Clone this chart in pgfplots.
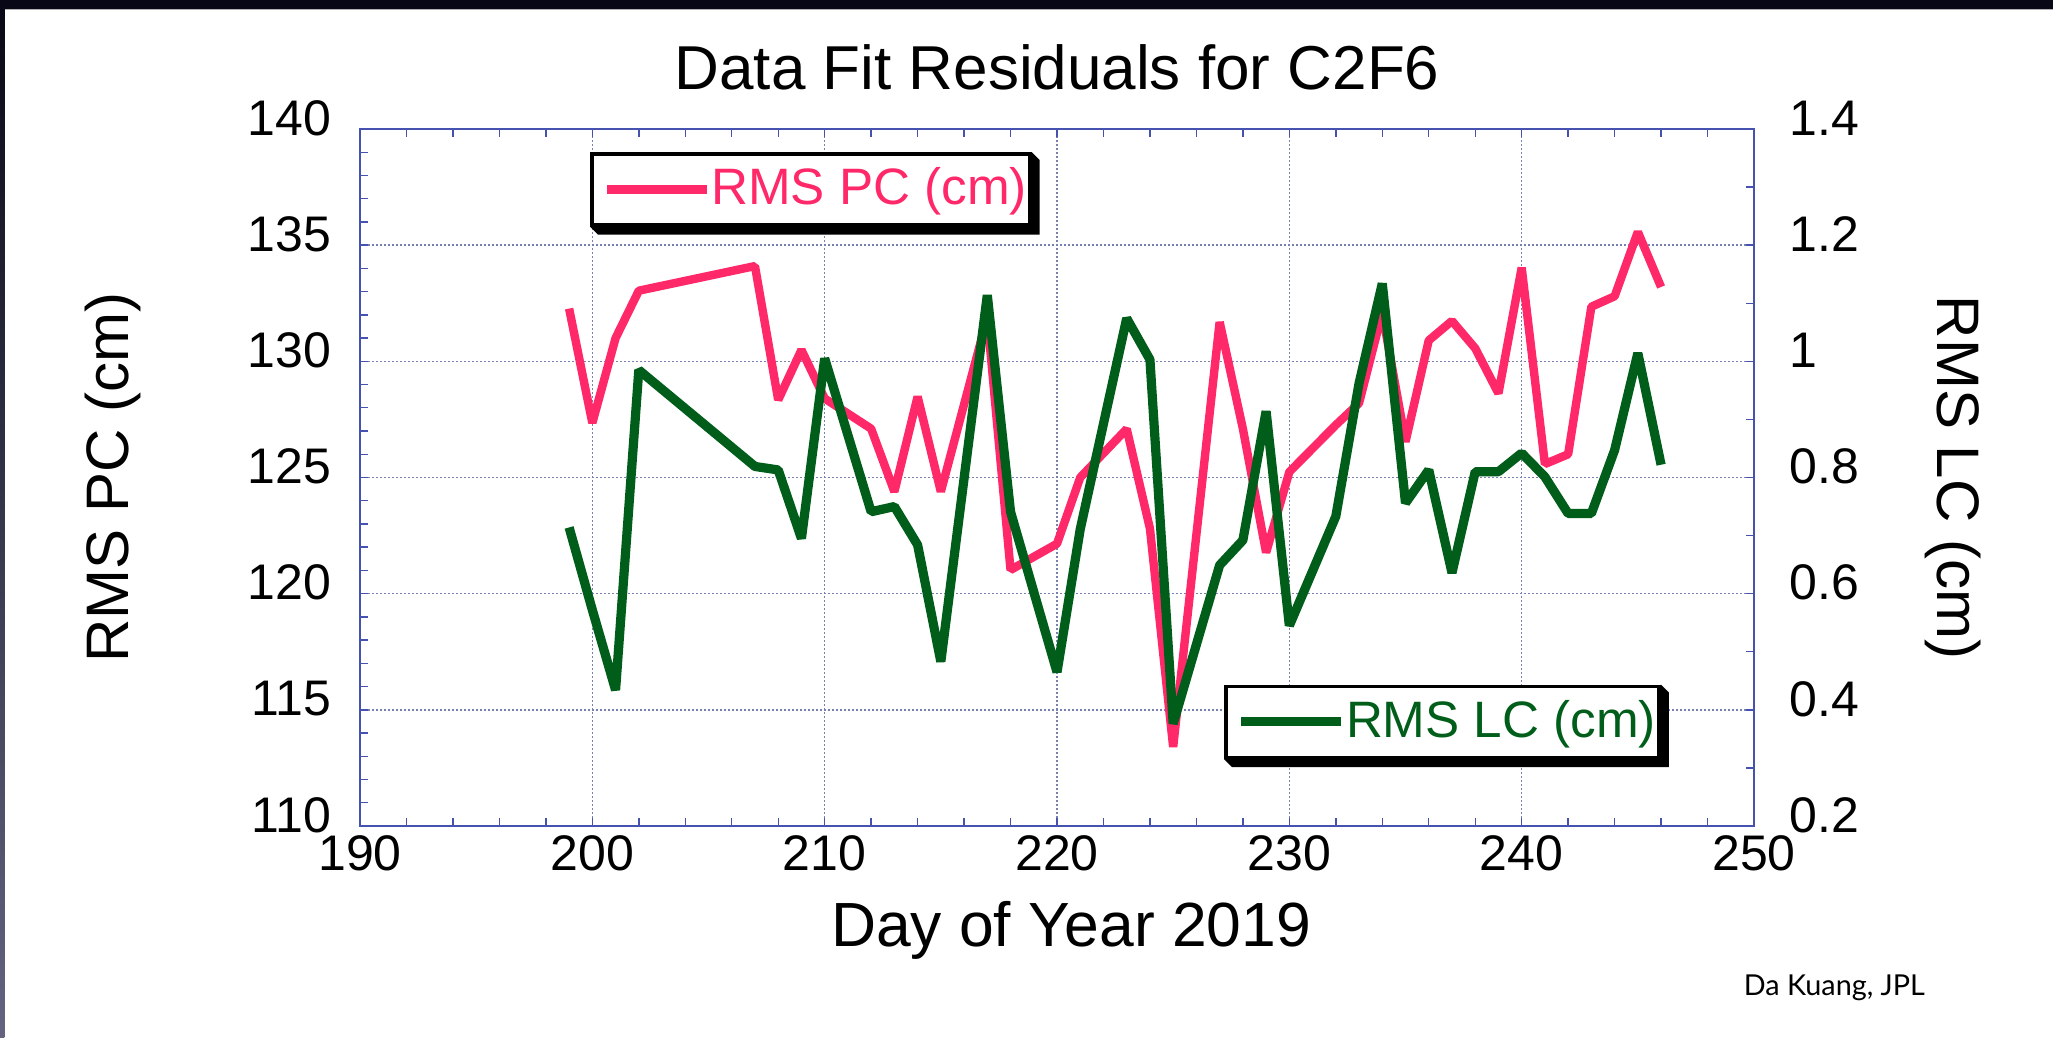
\documentclass[border=0pt]{standalone}
\usepackage{fontspec}
\setmainfont{Liberation Sans}
\newfontfamily\creditfont{Lato}
\usepackage{pgfplots}
\pgfplotsset{compat=1.18}

\definecolor{rmspc}{RGB}{255,40,105}
\definecolor{rmslc}{RGB}{0,94,26}
\definecolor{frameblue}{RGB}{70,82,175}
\definecolor{gridblue}{RGB}{120,128,175}
\definecolor{topband}{RGB}{8,8,22}

% residuals
\pgfplotstableread{
day rms
199 132.27
200 127.35
201 131.0
202 133.04
207 134.1
208 128.34
209 130.49
210 128.4
212 127.1
213 124.39
214 128.48
215 124.39
217 131.9
218 121.02
220 122.15
221 125.0
223 127.09
224 122.8
225 113.4
227 131.69
228 127.1
229 121.77
230 125.24
232 127.26
233 128.2
234 132.1
235 126.54
236 130.9
237 131.74
238 130.56
239 128.62
240 134.03
241 125.58
242 126.0
243 132.35
244 132.8
245 135.57
246 133.2
}\pcdata

\pgfplotstableread{
day rms
199 0.714
200 0.572
201 0.434
202 0.985
207 0.819
208 0.813
209 0.695
210 1.005
212 0.741
213 0.75
214 0.684
215 0.483
217 1.114
218 0.741
220 0.465
221 0.711
223 1.074
224 1.003
225 0.376
227 0.649
228 0.692
229 0.914
230 0.545
232 0.733
233 0.962
234 1.134
235 0.756
236 0.813
237 0.636
238 0.81
239 0.81
240 0.842
241 0.801
242 0.738
243 0.738
244 0.847
245 1.014
246 0.822
}\lcdata

\pgfplotsset{
  common/.style={
    scale only axis, width=348.5bp, height=174.25bp,
    at={(90bp,53bp)}, anchor=south west,
    xmin=190, xmax=250,
    tick align=inside,
    major tick length=2bp, minor tick length=2bp,
    every tick/.style={frameblue, line width=0.35bp},
    axis line style={frameblue, line width=0.4bp},
    tick label style={font=\fontsize{12.5bp}{12.5bp}\selectfont, inner sep=0pt},
    /pgf/number format/assume math mode=true,
    legend cell align=left,
    legend image code/.code={%
      \path (-1.25bp,0bp) -- (23.75bp,0bp);
      \draw[#1, line width=1.8bp] (0bp,0bp) -- (23.25bp,0bp);},
    box legend/.style={draw=black, line width=0.9bp, fill=white,
      font=\fontsize{12.8bp}{12.8bp}\selectfont,
      nodes={inner sep=0bp}, column sep=0bp,
      inner xsep=2.75bp, inner ysep=3.5bp, anchor=north west},
  }
}
\newcommand\labelfont{\fontsize{15bp}{15bp}\selectfont}
% solid shadow along the right and lower sides of a legend box
\newcommand\legendshadow[1]{%
  \fill[black] (#1.south west) -- ([shift={(2bp,-2bp)}]#1.south west)
    -- ([shift={(2bp,-2bp)}]#1.south east) -- ([shift={(2bp,-2bp)}]#1.north east)
    -- (#1.north east) -- (#1.south east) -- cycle;}

\begin{document}
\begin{tikzpicture}
% page: 2053x1038 px at 0.25bp per px
\fill[white] (0,0) rectangle (513.25bp,259.5bp);
\fill[topband] (0,257.25bp) rectangle (513.25bp,259.5bp);
\fill[gray!60] (0,257bp) rectangle (513.25bp,257.25bp);
\shade[top color=topband, bottom color={rgb,255:red,100;green,100;blue,130}] (0,0) rectangle (1.1bp,257.25bp);

\begin{axis}[common,
    ymin=110, ymax=140,
    xtick={190,200,...,250}, minor x tick num=4,
    ytick={110,115,...,140}, minor y tick num=4,
    ytick pos=left,
    xmajorgrids, ymajorgrids,
    grid style={gridblue, line width=0.35bp, dash pattern=on 0.6bp off 0.4bp},
    xticklabel style={anchor=north, yshift=-2.25bp},
    yticklabel style={anchor=east, xshift=-7bp, yshift=2.75bp},
    title={Data Fit Residuals for C2F6},
    every axis title/.style={at={(axis description cs:0.5,1)}, anchor=base, yshift=9.75bp,
      font=\fontsize{15.5bp}{15.5bp}\selectfont},
    xlabel={Day of Year 2019},
    every axis x label/.style={at={(axis description cs:0.5,0)}, anchor=base,
      xshift=3.5bp, yshift=-30bp, font=\fontsize{15.6bp}{15.6bp}\selectfont},
    ylabel={RMS PC (cm)},
    every axis y label/.style={at={(axis description cs:-0.1664,0.5)}, rotate=90, anchor=base,
      font=\labelfont},
    legend style={box legend, name=pcleg, at={(axis description cs:0.165,0.967)}},
]
\addplot[rmspc, line width=2.1bp, line join=bevel] table[x=day, y=rms] {\pcdata};
\addlegendentry[text=rmspc]{RMS PC (cm)\hspace*{-2bp}}
\end{axis}
\legendshadow{pcleg}

\begin{axis}[common,
    ymin=0.2, ymax=1.4,
    axis y line*=right, axis x line=none,
    ytick={0.2,0.4,0.6,0.8,1,1.2,1.4}, minor y tick num=1,
    yticklabel style={anchor=west, xshift=8.75bp, yshift=2.75bp},
    ylabel={RMS LC (cm)},
    every axis y label/.style={at={(axis description cs:1.1313,0.5)}, rotate=-90, anchor=base,
      font=\labelfont},
    legend style={box legend, name=lcleg, at={(axis description cs:0.6198,0.203)}},
]
\addplot[rmslc, line width=2.3bp, line join=bevel] table[x=day, y=rms] {\lcdata};
\addlegendentry[text=rmslc]{RMS LC (cm)\hspace*{-2bp}}
\end{axis}
\legendshadow{lcleg}

\node[anchor=base west, inner sep=0pt, font=\creditfont\fontsize{7.2bp}{7.2bp}\selectfont]
  at (435.75bp,10.75bp) {Da Kuang, JPL};

\pgfresetboundingbox
\useasboundingbox (0,0) rectangle (513.25bp,259.5bp);
\end{tikzpicture}
\end{document}
